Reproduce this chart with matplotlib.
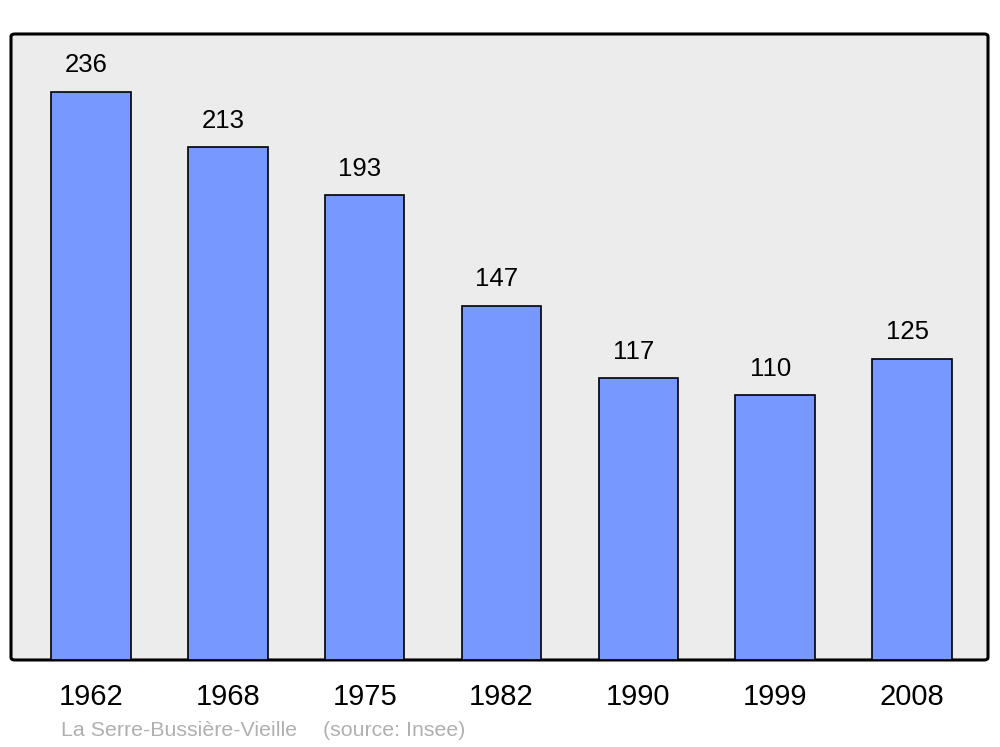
import matplotlib.pyplot as plt
from matplotlib.patches import FancyBboxPatch

plt.rcParams['font.family'] = ['Liberation Sans', 'DejaVu Sans']

# data
years = ["1962", "1968", "1975", "1982", "1990", "1999", "2008"]
population = [236, 213, 193, 147, 117, 110, 125]
commune = "La Serre-Bussière-Vieille"
source = "(source: Insee)"

BAR_COLOR = "#7799ff"
BG_COLOR = "#ececec"

fig = plt.figure(figsize=(10, 7.47), dpi=100)
ax = fig.add_axes([0.011, 0.1165, 0.977, 0.838])
ax.set_facecolor("none")

# rounded frame
frame = FancyBboxPatch((0, 0), 1, 1, boxstyle="round,pad=0,rounding_size=0.004",
                       transform=ax.transAxes, facecolor=BG_COLOR,
                       edgecolor="black", linewidth=2.2, zorder=0, clip_on=False)
ax.add_patch(frame)
for s in ax.spines.values():
    s.set_visible(False)

x = list(range(len(years)))
ax.bar(x, population, width=0.58, color=BAR_COLOR, edgecolor="black",
       linewidth=1.2, zorder=2)

for xi, v in zip(x, population):
    ax.annotate(str(v), (xi, v), xytext=(-3.5, 10.5), textcoords="offset points",
                ha="center", va="bottom", fontsize=18.5)

ax.set_xlim(-0.585, 6.556)
ax.set_ylim(0, 260)
ax.set_yticks([])
ax.set_xticks(x)
ax.set_xticklabels(years, fontsize=21)
ax.tick_params(axis="x", length=0, pad=16.5)

fig.text(0.061, 1 - 730 / 747, commune, fontsize=15.4,
         color="#b0b0b0", ha="left", va="center")
fig.text(0.323, 1 - 730 / 747, source, fontsize=15.4,
         color="#b0b0b0", ha="left", va="center")

fig.savefig("out.png", dpi=100)
